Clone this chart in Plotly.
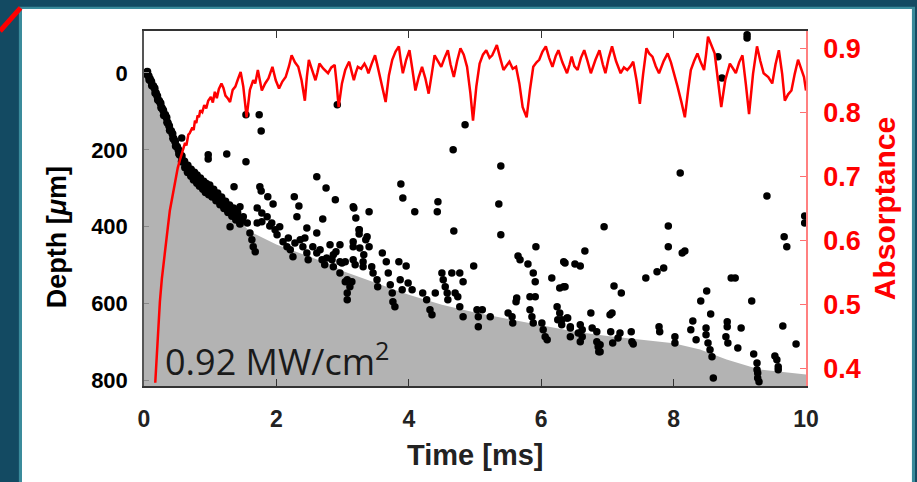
import plotly.graph_objects as go

# ---------------- data ----------------
# absorptance trace (time ms, absorptance)
abs_t = [0.17, 0.20, 0.24, 0.27, 0.30, 0.32, 0.36, 0.39, 0.43, 0.47, 0.51, 0.55, 0.59, 0.62, 0.64, 0.67, 0.69,
         0.71, 0.73, 0.75, 0.77, 0.79, 0.81, 0.83, 0.85, 0.88, 0.91, 0.94, 0.97, 1.01, 1.04, 1.07, 1.10, 1.13,
         1.17, 1.20, 1.23, 1.27, 1.30, 1.34, 1.38, 1.42, 1.46, 1.50, 1.55, 1.60, 1.65, 1.68, 1.72, 1.75, 1.78,
         1.83, 1.88, 1.91, 1.94, 1.99, 2.04, 2.09, 2.14, 2.19, 2.23, 2.28, 2.33, 2.38, 2.43, 2.46, 2.49, 2.54,
         2.59, 2.62, 2.65, 2.71, 2.78, 2.83, 2.88, 2.91, 2.94, 2.99, 3.04, 3.07, 3.10, 3.14, 3.17, 3.20, 3.23,
         3.28, 3.33, 3.36, 3.39, 3.44, 3.49, 3.52, 3.55, 3.60, 3.65, 3.70, 3.75, 3.80, 3.85, 3.88, 3.91, 3.96,
         4.01, 4.05, 4.10, 4.15, 4.20, 4.25, 4.30, 4.35, 4.39, 4.44, 4.49, 4.54, 4.59, 4.63, 4.68, 4.73, 4.78,
         4.83, 4.88, 4.93, 4.97, 5.02, 5.07, 5.12, 5.17, 5.22, 5.26, 5.30, 5.33, 5.38, 5.43, 5.47, 5.52, 5.57,
         5.62, 5.67, 5.72, 5.75, 5.78, 5.83, 5.88, 5.93, 5.97, 6.02, 6.07, 6.12, 6.17, 6.22, 6.26, 6.32, 6.39,
         6.43, 6.46, 6.50, 6.55, 6.60, 6.65, 6.70, 6.75, 6.82, 6.88, 6.93, 6.97, 7.02, 7.07, 7.13, 7.20, 7.25,
         7.30, 7.35, 7.39, 7.44, 7.49, 7.54, 7.59, 7.63, 7.68, 7.73, 7.78, 7.85, 7.91, 7.96, 8.01, 8.06, 8.12,
         8.17, 8.22, 8.26, 8.31, 8.36, 8.41, 8.46, 8.49, 8.52, 8.57, 8.62, 8.67, 8.72, 8.78, 8.85, 8.90, 8.94,
         8.99, 9.04, 9.09, 9.14, 9.20, 9.26, 9.31, 9.36, 9.43, 9.49, 9.54, 9.59, 9.64, 9.68, 9.73, 9.78, 9.83,
         9.88, 9.92, 9.97, 10.0]
abs_v = [0.377, 0.44, 0.504, 0.54, 0.57, 0.588, 0.62, 0.646, 0.668, 0.688, 0.713, 0.728, 0.74, 0.752, 0.748, 0.765, 0.767,
         0.771, 0.776, 0.772, 0.787, 0.783, 0.795, 0.792, 0.803, 0.800, 0.811, 0.806, 0.818, 0.824, 0.815, 0.832, 0.822, 0.836,
         0.845, 0.838, 0.826, 0.821, 0.816, 0.835, 0.840, 0.852, 0.863, 0.840, 0.792, 0.835, 0.850, 0.845, 0.866, 0.850, 0.834,
         0.845, 0.853, 0.862, 0.871, 0.850, 0.837, 0.848, 0.855, 0.872, 0.889, 0.878, 0.871, 0.850, 0.818, 0.855, 0.882, 0.866,
         0.850, 0.862, 0.876, 0.868, 0.861, 0.870, 0.874, 0.845, 0.808, 0.845, 0.866, 0.873, 0.879, 0.862, 0.850, 0.862, 0.871,
         0.868, 0.876, 0.870, 0.861, 0.876, 0.889, 0.876, 0.861, 0.840, 0.816, 0.858, 0.882, 0.895, 0.903, 0.880, 0.861, 0.882,
         0.897, 0.870, 0.834, 0.855, 0.871, 0.853, 0.829, 0.862, 0.889, 0.880, 0.871, 0.885, 0.897, 0.875, 0.855, 0.880, 0.900,
         0.890, 0.871, 0.830, 0.787, 0.840, 0.876, 0.890, 0.897, 0.885, 0.889, 0.898, 0.905, 0.885, 0.866, 0.872, 0.879, 0.868,
         0.871, 0.845, 0.808, 0.800, 0.792, 0.835, 0.871, 0.878, 0.882, 0.895, 0.903, 0.885, 0.871, 0.888, 0.897, 0.878, 0.861,
         0.875, 0.887, 0.872, 0.866, 0.885, 0.897, 0.880, 0.861, 0.882, 0.897, 0.875, 0.861, 0.885, 0.903, 0.880, 0.861, 0.870,
         0.866, 0.872, 0.879, 0.850, 0.813, 0.860, 0.900, 0.892, 0.887, 0.872, 0.861, 0.880, 0.892, 0.878, 0.861, 0.840, 0.815,
         0.792, 0.835, 0.866, 0.880, 0.892, 0.878, 0.866, 0.890, 0.918, 0.905, 0.892, 0.850, 0.808, 0.850, 0.876, 0.868, 0.861,
         0.878, 0.889, 0.845, 0.797, 0.860, 0.903, 0.880, 0.861, 0.855, 0.845, 0.875, 0.897, 0.860, 0.818, 0.828, 0.834, 0.860,
         0.882, 0.870, 0.855, 0.834]

# ablated region boundary (time ms, depth um)
fill_t = [0, 0.1, 0.3, 0.5, 0.7, 1.0, 1.3, 1.6, 2.0, 2.5, 2.8, 3.0, 3.5, 4.0, 4.5, 5.0, 5.5, 6.0, 6.5, 7.0, 7.5,
          8.0, 8.4, 8.8, 9.3, 10.0]
fill_d = [0, 20, 100, 190, 262, 312, 360, 412, 446, 478, 497, 515, 546, 577, 603, 623, 640, 656, 672, 684, 694,
          703, 719, 745, 771, 784]

# dense ablation front (early times)
front_t = [0.05, 0.09, 0.14, 0.18, 0.23, 0.27, 0.32, 0.36, 0.41, 0.45, 0.50, 0.54, 0.59, 0.63, 0.68, 0.73, 0.77,
           0.82, 0.86, 0.91, 0.95, 1.00, 1.06, 1.12, 1.18, 1.24, 1.30, 1.36, 1.42, 1.48,
           0.02, 0.07, 0.11, 0.16, 0.20, 0.25, 0.29, 0.34, 0.38, 0.43, 0.47, 0.52, 0.57, 0.61, 0.66, 0.71, 0.76,
           0.80, 0.85, 0.90, 0.94, 0.99, 1.05, 1.11, 1.17, 1.23, 1.29, 1.35, 1.41,
           0.08, 0.12, 0.17, 0.21, 0.26, 0.30, 0.35, 0.39, 0.44, 0.48, 0.53, 0.57, 0.62, 0.66, 0.71, 0.75, 0.80,
           0.84, 0.89, 0.93, 0.98, 1.03, 1.09, 1.15, 1.21, 1.27, 1.33, 1.39, 1.45]
front_d = [-3, 16, 34, 52, 73, 91, 109, 130, 151, 172, 192, 213, 229, 242, 252, 263, 270,
           278, 286, 294, 299, 304, 315, 325, 335, 346, 356, 364, 374, 382,
           2, 8, 22, 40, 60, 79, 97, 116, 138, 158, 178, 200, 216, 230, 241, 251, 259,
           266, 274, 282, 288, 292, 303, 313, 323, 334, 344, 352, 362,
           18, 33, 52, 70, 90, 110, 128, 149, 170, 190, 210, 230, 246, 258, 268, 278, 286,
           294, 302, 310, 316, 322, 332, 342, 352, 362, 372, 382, 392]

# scattered depth measurements (time ms, depth um)
scat_t = [1.54, 1.74, 1.77, 2.92, 0.57, 0.97, 0.97, 1.25, 1.54, 1.36, 1.75, 1.77, 1.87, 1.95, 2.27, 2.34, 2.61,
          2.75, 2.89, 3.16, 2.70, 3.25, 1.71, 1.78, 2.31, 2.46, 1.30, 1.45, 1.50, 1.56, 1.60, 1.63, 1.65, 1.68,
          1.71, 1.86, 1.93, 1.98, 2.01, 2.05, 2.10, 2.16, 2.21, 2.25, 2.36, 2.40, 2.46, 2.48, 2.55, 2.61, 2.69,
          2.73, 2.84, 2.86, 2.96, 3.04, 3.11, 2.61, 2.81, 2.86, 2.96, 3.16, 2.99, 3.16, 1.78, 1.90, 2.18, 2.28,
          2.43, 2.66, 2.76, 2.90, 3.04,
          4.85, 4.67, 5.39, 3.88, 3.91, 4.09, 4.44, 4.43, 5.36, 4.68, 5.39, 3.17, 3.20, 3.40, 3.25, 3.25, 3.37,
          3.16, 3.40, 3.32, 3.60, 2.96, 3.19, 3.31, 3.31, 3.66, 3.85, 3.96, 4.98, 5.92, 5.65, 5.68, 5.80, 6.34,
          6.51, 6.16, 6.28, 6.34, 5.88, 5.91, 5.83, 5.91, 5.63, 5.62, 6.24, 6.28, 6.31, 6.40, 6.44, 6.44, 3.07,
          3.07, 3.07, 3.14, 3.44, 3.46, 3.52, 3.53, 3.69, 3.72, 3.75, 3.76, 3.79, 3.87, 3.90, 3.99, 4.05, 4.21,
          4.27, 4.32, 4.35, 4.40, 4.50, 4.52, 4.55, 4.58, 4.59, 4.65, 4.77, 4.82, 4.74, 4.77, 4.82, 4.70, 5.03,
          5.05, 5.05, 5.11, 5.23, 5.50, 5.56, 5.57, 5.83, 5.86, 5.88, 6.01, 6.03, 6.06, 6.09, 6.25, 6.31, 6.56,
          3.26, 3.35,
          8.10, 9.41, 9.98, 9.98, 9.67, 9.71, 6.95, 7.92, 7.92, 8.13, 8.17, 6.66, 6.36, 6.59, 7.58, 7.75, 7.85,
          8.87, 8.93, 8.50, 8.41, 9.18, 7.10, 7.21, 6.36, 6.75, 7.04, 7.07, 8.56, 8.29, 8.81, 8.81, 9.02, 9.65,
          6.39, 6.44, 6.59, 6.62, 6.62, 6.77, 6.84, 6.59, 6.84, 6.86, 6.87, 7.05, 7.08, 7.19, 7.16, 7.36, 7.37,
          7.39, 7.78, 7.79, 8.02, 8.02, 8.26, 8.34, 8.49, 8.49, 8.52, 8.55, 8.58, 8.60, 8.79, 8.82, 8.97, 9.21,
          9.26, 9.26, 9.27, 9.27, 9.29, 9.53, 9.56, 9.58, 9.58, 9.85, 6.89, 6.89,
          8.67, 8.73, 9.11, 9.11]
scat_d = [109, 109, 151, 83, 169, 213, 224, 211, 231, 296, 296, 307, 322, 341, 322, 346, 270,
          299, 330, 348, 380, 408, 351, 364, 374, 403, 400, 348, 374, 390, 416, 434, 452, 465,
          390, 374, 390, 408, 421, 400, 439, 452, 460, 478, 434, 452, 468, 486, 452, 468, 486,
          499, 486, 504, 520, 543, 556, 416, 447, 473, 447, 439, 494, 486, 387, 398, 429, 442,
          429, 460, 481, 465, 491,
          135, 200, 242, 289, 325, 361, 335, 361, 341, 411, 421, 351, 377, 361, 408, 419, 426,
          452, 452, 473, 468, 491, 499, 491, 504, 491, 491, 502, 502, 452, 476, 486, 497, 491,
          497, 533, 559, 556, 520, 543, 582, 582, 585, 595, 608, 624, 642, 637, 663, 686, 538,
          572, 590, 543, 504, 520, 538, 556, 520, 551, 572, 595, 608, 538, 564, 546, 564, 572,
          590, 616, 629, 572, 520, 538, 556, 572, 590, 520, 520, 543, 582, 608, 634, 572, 616,
          634, 660, 616, 634, 624, 634, 650, 616, 634, 650, 650, 668, 686, 694, 642, 655, 676,
          455, 434,
          260, 320, 372, 390, 426, 452, 400, 398, 452, 468, 463, 463, 494, 502, 533, 517, 507,
          533, 533, 567, 593, 593, 554, 572, 556, 624, 629, 624, 627, 645, 647, 660, 663, 658,
          637, 660, 655, 668, 686, 663, 673, 699, 699, 712, 725, 673, 702, 676, 689, 673, 699,
          705, 660, 673, 686, 702, 668, 694, 663, 681, 702, 720, 738, 793, 686, 702, 715, 731,
          754, 772, 780, 793, 803, 736, 746, 764, 772, 705, 707, 725,
          -42, 13, -99, -91]

x_ticks = [0, 2, 4, 6, 8, 10]
depth_ticks = [0, 200, 400, 600, 800]
abs_ticks = [0.4, 0.5, 0.6, 0.7, 0.8, 0.9]
abs_tick_text = ["0.4", "0.5", "0.6", "0.7", "0.8", "0.9"]

X_RANGE = [0, 10]
DEPTH_RANGE = [814, -109]
ABS_RANGE = [0.372, 0.927]

FONT = "Liberation Sans"
BG = "#134a62"

fig = go.Figure()

# gray ablated area (polygon closed at bottom of axis)
poly_t = fill_t + [fill_t[-1], fill_t[0]]
poly_d = fill_d + [DEPTH_RANGE[0], DEPTH_RANGE[0]]
fig.add_trace(go.Scatter(x=poly_t, y=poly_d, mode="lines", fill="toself",
                         fillcolor="#b3b3b3", line=dict(width=0, color="#b3b3b3"),
                         hoverinfo="skip", showlegend=False))

fig.add_trace(go.Scatter(x=front_t, y=front_d, mode="markers",
                         marker=dict(color="black", size=8, line=dict(width=0)),
                         showlegend=False))
fig.add_trace(go.Scatter(x=scat_t, y=scat_d, mode="markers",
                         marker=dict(color="black", size=7.5, line=dict(width=0)),
                         showlegend=False))

fig.add_trace(go.Scatter(x=abs_t, y=abs_v, mode="lines", yaxis="y2",
                         line=dict(color="#ff0000", width=2.5), showlegend=False))

# background panel
shapes = [
    dict(type="rect", xref="paper", yref="paper", x0=-0.189, x1=1.1647, y0=-0.3, y1=1.068,
         fillcolor="#3a8b9b", line=dict(width=0), layer="below"),
    dict(type="rect", xref="paper", yref="paper", x0=-0.1843, x1=1.160, y0=-0.3, y1=1.062,
         fillcolor="white", line=dict(width=0), layer="below"),
    dict(type="line", xref="paper", yref="paper", x0=-0.2175, y0=1.0, x1=-0.1865, y1=1.065,
         line=dict(color="#ff0000", width=5)),
]

annotations = [
    dict(text="0.92 MW/cm<sup>2</sup>", xref="paper", yref="paper", x=0.029, y=0.075,
         xanchor="left", yanchor="middle", showarrow=False,
         font=dict(family="Open Sans", size=36, color="#1a1a1a")),
    dict(text="Depth [<i>μ</i>m]", xref="paper", yref="paper", x=-0.131, y=0.42,
         textangle=-90, xanchor="center", yanchor="middle", showarrow=False,
         font=dict(family=FONT, size=27, color="black", weight="bold")),
    dict(text="Time [ms]", xref="paper", yref="paper", x=0.5, y=-0.194,
         xanchor="center", yanchor="middle", showarrow=False,
         font=dict(family=FONT, size=29, color="#222222", weight="bold")),
    dict(text="Absorptance", xref="paper", yref="paper", x=1.119, y=0.50,
         textangle=-90, xanchor="center", yanchor="middle", showarrow=False,
         font=dict(family=FONT, size=30, color="#ff0000", weight="bold")),
]

fig.update_layout(
    width=917, height=482,
    margin=dict(l=144, r=111, t=31, b=96),
    paper_bgcolor=BG,
    plot_bgcolor="white",
    showlegend=False,
    shapes=shapes,
    annotations=annotations,
    xaxis=dict(range=X_RANGE, tickvals=x_ticks, ticks="inside", ticklen=7, tickcolor="#333",
               showline=True, linecolor="#333", linewidth=1.5, mirror="ticks",
               showgrid=False, zeroline=False, ticklabelstandoff=12,
               tickfont=dict(family=FONT, size=23, color="#222222", weight="bold")),
    yaxis=dict(range=DEPTH_RANGE, tickvals=depth_ticks, ticks="inside", ticklen=5, tickcolor="#888",
               showline=True, linecolor="#555", linewidth=1.5,
               showgrid=False, zeroline=False, ticklabelstandoff=10,
               tickfont=dict(family=FONT, size=22, color="black", weight="bold")),
    yaxis2=dict(range=ABS_RANGE, tickvals=abs_ticks, ticktext=abs_tick_text, overlaying="y", side="right",
                ticks="inside", ticklen=6, tickcolor="#ff7070",
                showline=True, linecolor="#ff8080", linewidth=1.5,
                showgrid=False, zeroline=False, ticklabelstandoff=10,
                tickfont=dict(family=FONT, size=27, color="#ff0000", weight="bold")),
)

fig.write_html("out.html", config={"displayModeBar": False},
               post_script="document.body.style.margin='0';document.body.style.background='" + BG + "';")
